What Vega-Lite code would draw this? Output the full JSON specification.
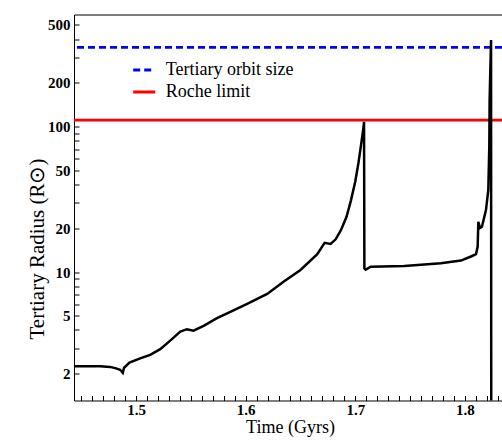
{
  "$schema": "https://vega.github.io/schema/vega-lite/v6.json",
  "width": 428,
  "height": 386,
  "autosize": {"type": "none"},
  "padding": {"left": 74, "top": 14.5, "right": 0, "bottom": 39.5},
  "config": {
    "view": {"stroke": "black", "strokeWidth": 1},
    "font": "Liberation Serif",
    "axis": {
      "grid": false,
      "domain": false,
      "labelFont": "Liberation Serif",
      "labelFontWeight": "bold",
      "labelFontSize": 15,
      "labelColor": "black",
      "titleFont": "Liberation Serif",
      "titleFontWeight": "normal",
      "titleColor": "black",
      "labelOverlap": false
    }
  },
  "layer": [
    {
      "data": {"values": [
        {"name": "Tertiary orbit size", "R": 351},
        {"name": "Roche limit", "R": 111}
      ]},
      "mark": {"type": "rule", "strokeWidth": 2.8, "clip": true},
      "encoding": {
        "y": {
          "field": "R", "type": "quantitative",
          "scale": {"type": "log", "domain": [1.31, 590], "nice": false},
          "axis": {
            "values": [2,3,4,5,6,7,8,9,10,20,30,40,50,60,70,80,90,100,200,300,400,500],
            "labelExpr": "indexof([2,5,10,20,50,100,200,500], datum.value) >= 0 ? format(datum.value, 'd') : ''",
            "ticks": true,
            "tickSize": 5,
            "tickColor": "black",
            "tickWidth": 1,
            "offset": -5,
            "labelPadding": 4,
            "title": "Tertiary Radius (R⊙)",
            "titleFontSize": 21,
            "titleX": -42,
            "titleY": 234,
            "titleAngle": -90,
            "titleAlign": "center",
            "titleBaseline": "middle"
          }
        },
        "color": {
          "field": "name", "type": "nominal",
          "scale": {"domain": ["Tertiary orbit size", "Roche limit"], "range": ["#0000ff", "#ff0000"]},
          "legend": {
            "orient": "none",
            "legendX": 57.7,
            "legendY": 43,
            "title": null,
            "symbolType": "stroke",
            "symbolSize": 484,
            "symbolStrokeWidth": 2.8,
            "labelFont": "Liberation Serif",
            "labelFontSize": 18,
            "labelColor": "black",
            "labelOffset": 9,
            "rowPadding": -1,
            "padding": 0
          }
        },
        "strokeDash": {
          "field": "name", "type": "nominal",
          "scale": {"domain": ["Tertiary orbit size", "Roche limit"], "range": [[7, 4], [1, 0]]}
        }
      }
    },
    {
      "data": {"values": [
        {"t": 1.4433, "R": 2.25},
        {"t": 1.4671, "R": 2.25},
        {"t": 1.4762, "R": 2.23},
        {"t": 1.4817, "R": 2.18},
        {"t": 1.4854, "R": 2.13},
        {"t": 1.4878, "R": 2.03},
        {"t": 1.4890, "R": 2.20},
        {"t": 1.4939, "R": 2.39},
        {"t": 1.5037, "R": 2.55},
        {"t": 1.5128, "R": 2.70},
        {"t": 1.5220, "R": 2.95},
        {"t": 1.5311, "R": 3.38},
        {"t": 1.5403, "R": 3.90},
        {"t": 1.5464, "R": 4.05},
        {"t": 1.5524, "R": 3.96},
        {"t": 1.5616, "R": 4.27},
        {"t": 1.5738, "R": 4.82},
        {"t": 1.5860, "R": 5.33},
        {"t": 1.6013, "R": 6.04},
        {"t": 1.6196, "R": 7.08},
        {"t": 1.6348, "R": 8.61},
        {"t": 1.6500, "R": 10.35},
        {"t": 1.6653, "R": 13.3},
        {"t": 1.6720, "R": 15.9},
        {"t": 1.6775, "R": 15.6},
        {"t": 1.6821, "R": 16.8},
        {"t": 1.6870, "R": 19.5},
        {"t": 1.6920, "R": 24},
        {"t": 1.6960, "R": 31},
        {"t": 1.7000, "R": 42},
        {"t": 1.7030, "R": 57},
        {"t": 1.7055, "R": 77},
        {"t": 1.7072, "R": 95},
        {"t": 1.7080, "R": 108},
        {"t": 1.7083, "R": 10.6},
        {"t": 1.7095, "R": 10.4},
        {"t": 1.7141, "R": 10.9},
        {"t": 1.7446, "R": 11.0},
        {"t": 1.7781, "R": 11.5},
        {"t": 1.7964, "R": 12.0},
        {"t": 1.8056, "R": 12.8},
        {"t": 1.8102, "R": 13.3},
        {"t": 1.8117, "R": 15.0},
        {"t": 1.8123, "R": 22.2},
        {"t": 1.8138, "R": 20.1},
        {"t": 1.8156, "R": 20.5},
        {"t": 1.8193, "R": 26.8},
        {"t": 1.8214, "R": 36.7},
        {"t": 1.8223, "R": 72.9},
        {"t": 1.8226, "R": 153},
        {"t": 1.8239, "R": 394},
        {"t": 1.8241, "R": 1.0}
      ]},
      "mark": {"type": "line", "color": "black", "strokeWidth": 2.5, "clip": true},
      "encoding": {
        "x": {
          "field": "t", "type": "quantitative",
          "scale": {"domain": [1.4433, 1.8339], "nice": false, "zero": false},
          "axis": {
            "values": [1.45,1.46,1.47,1.48,1.49,1.5,1.51,1.52,1.53,1.54,1.55,1.56,1.57,1.58,1.59,1.6,1.61,1.62,1.63,1.64,1.65,1.66,1.67,1.68,1.69,1.7,1.71,1.72,1.73,1.74,1.75,1.76,1.77,1.78,1.79,1.8,1.81,1.82,1.83],
            "labelExpr": "abs(datum.value * 10 - round(datum.value * 10)) < 0.001 ? format(datum.value, '.1f') : ''",
            "ticks": true,
            "tickSize": 5,
            "tickColor": "black",
            "tickWidth": 1,
            "offset": -5,
            "labelPadding": 2,
            "title": "Time (Gyrs)",
            "titleFontSize": 18,
            "titleX": 216,
            "titleY": 32,
            "titleBaseline": "middle"
          }
        },
        "y": {"field": "R", "type": "quantitative"}
      }
    }
  ]
}
